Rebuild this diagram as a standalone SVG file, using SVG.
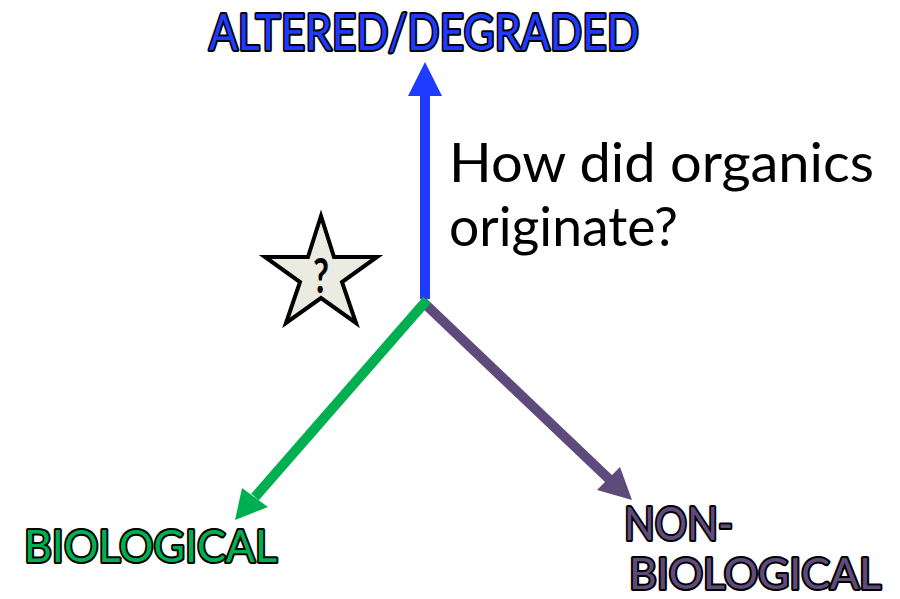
<svg xmlns="http://www.w3.org/2000/svg" width="900" height="599" viewBox="0 0 900 599">
<style>
.lbl{font-family:Lato,"Liberation Sans",sans-serif;font-weight:normal;stroke:#000;stroke-width:4;stroke-linejoin:round;paint-order:stroke}
.q{font-family:Lato,"Liberation Sans",sans-serif;font-size:55px;fill:#000}
.ax{stroke-width:10;fill:none;stroke-linecap:butt}
</style>
<rect width="900" height="599" fill="#fff"/>
<g id="connectors">
<line class="ax" x1="425" y1="299" x2="425" y2="94" stroke="#1F3BFF"/>
<polygon points="425,62 408,96 442,96" fill="#1F3BFF"/>
<line class="ax" x1="423" y1="302" x2="609" y2="479" stroke="#5F4B7B"/>
<polygon points="632,500 597,490 620,467" fill="#5F4B7B"/>
<line class="ax" x1="427" y1="300" x2="255" y2="497" stroke="#00B050"/>
<polygon points="235,520 242,488 268,507" fill="#00B050"/>
</g>
<g id="altered">
<text class="lbl" x="209" y="50" font-size="51" fill="#1F3BFF" textLength="430" lengthAdjust="spacingAndGlyphs">ALTERED/DEGRADED</text>
</g>
<g id="biological">
<text class="lbl" x="24" y="562" font-size="45" fill="#00B050" textLength="253" lengthAdjust="spacingAndGlyphs">BIOLOGICAL</text>
</g>
<g id="nonbiological">
<text class="lbl" x="624" y="540" font-size="46" fill="#5F4B7B" textLength="109" lengthAdjust="spacingAndGlyphs">NON-</text>
<text class="lbl" x="629" y="589" font-size="43" fill="#5F4B7B" textLength="252" lengthAdjust="spacingAndGlyphs">BIOLOGICAL</text>
</g>
<g id="question">
<text class="q" x="449" y="182" textLength="425" lengthAdjust="spacingAndGlyphs">How did organics</text>
<text class="q" x="449" y="246" textLength="229" lengthAdjust="spacingAndGlyphs">originate?</text>
</g>
<g id="star">
<polygon points="321,216 334,257 377,257 342,282 356,323 321,298 286,323 300,282 265,257 308,257" fill="#ECEBE1" stroke="#000" stroke-width="4" stroke-linejoin="miter"/>
<text x="321" y="293" font-family="Lato,'Liberation Sans',sans-serif" font-weight="bold" font-size="48" text-anchor="middle" textLength="16" lengthAdjust="spacingAndGlyphs">?</text>
</g>
</svg>
